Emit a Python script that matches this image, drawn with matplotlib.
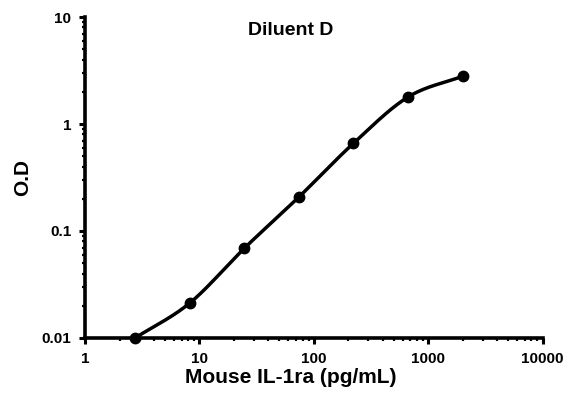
import numpy as np
import matplotlib
matplotlib.use('Agg')
import matplotlib.pyplot as plt
from matplotlib.ticker import LogLocator, NullFormatter, FixedLocator

# data
conc = [2.74, 8.23, 24.7, 74.1, 222, 667, 2000]
od = [0.0100, 0.0212, 0.069, 0.208, 0.66, 1.79, 2.80]
x_ticks = [1, 10, 100, 1000, 10000]
x_labels = ['1', '10', '100', '1000', '10000']
y_ticks = [0.01, 0.1, 1, 10]
y_labels = ['0.01', '0.1', '1', '10']

plt.rcParams['font.family'] = ['Liberation Sans', 'DejaVu Sans']
plt.rcParams['font.weight'] = 'bold'


def smooth_line(x, y, n=30):
    # Catmull-Rom in log space, like a spreadsheet "smoothed line"
    lx = np.log10(x)
    ly = np.log10(y)
    p = np.column_stack([lx, ly])
    p = np.vstack([p[0] - (p[1] - p[0]), p, p[-1] + (p[-1] - p[-2])])
    out = []
    for i in range(1, len(p) - 2):
        p0, p1, p2, p3 = p[i - 1], p[i], p[i + 1], p[i + 2]
        t = np.linspace(0, 1, n)[:, None]
        seg = 0.5 * ((2 * p1) + (-p0 + p2) * t + (2 * p0 - 5 * p1 + 4 * p2 - p3) * t ** 2
                     + (-p0 + 3 * p1 - 3 * p2 + p3) * t ** 3)
        out.append(seg)
    out = np.vstack(out)
    return 10 ** out[:, 0], 10 ** out[:, 1]


fig = plt.figure(figsize=(5.79, 3.98), dpi=100)
ax = fig.add_axes([0.147, 0.151, 0.79, 0.806])

sx, sy = smooth_line(conc, od)
ax.plot(sx, sy, color='black', lw=2.5, zorder=2, clip_on=False)
ax.plot(conc, od, 'o', color='black', ms=7.5, zorder=3, clip_on=False)

ax.set_xscale('log')
ax.set_yscale('log')
ax.set_xlim(1, 10000)
ax.set_ylim(0.01, 10)

ax.xaxis.set_major_locator(FixedLocator(x_ticks))
ax.set_xticklabels(x_labels)
ax.yaxis.set_major_locator(FixedLocator(y_ticks))
ax.set_yticklabels(y_labels)
ax.xaxis.set_minor_locator(LogLocator(base=10, subs=np.arange(2, 10)))
ax.yaxis.set_minor_locator(LogLocator(base=10, subs=np.arange(2, 10)))
ax.xaxis.set_minor_formatter(NullFormatter())
ax.yaxis.set_minor_formatter(NullFormatter())

for s in ['top', 'right']:
    ax.spines[s].set_visible(False)
for s in ['left', 'bottom']:
    ax.spines[s].set_linewidth(2.6)

ax.tick_params(which='major', direction='out', length=4, width=2.2, labelsize=11, pad=6)
ax.tick_params(which='minor', direction='out', length=2, width=1.6)

ax.set_xlabel('Mouse IL-1ra (pg/mL)', fontsize=15, fontweight='bold')
ax.xaxis.set_label_coords(0.45, -0.095)
ax.set_ylabel('O.D', fontsize=15, fontweight='bold', labelpad=7)
ax.text(0.45, 0.985, 'Diluent D', transform=ax.transAxes, ha='center', va='top',
        fontsize=14, fontweight='bold')

plt.savefig('out.png', dpi=100)
